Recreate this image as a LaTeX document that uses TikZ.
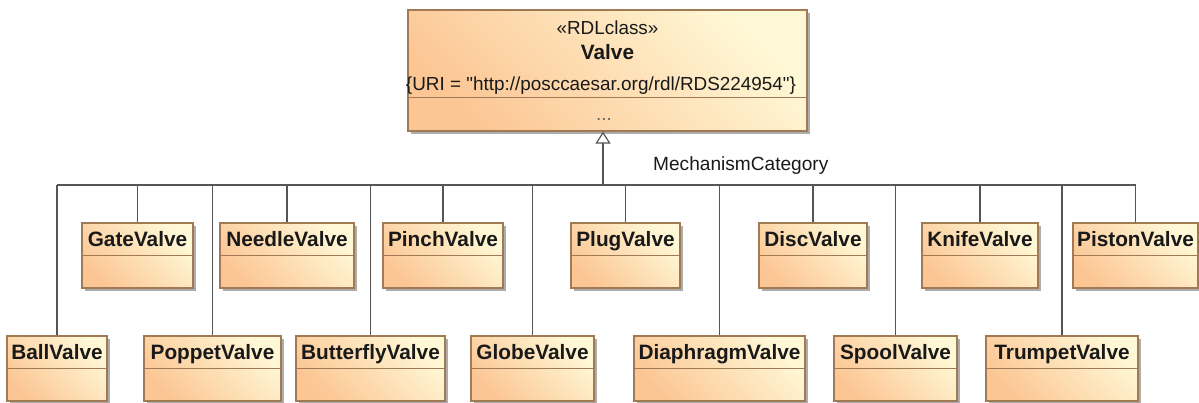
\documentclass[tikz,border=0pt]{standalone}
\usepackage{fontspec}
\setmainfont{Liberation Sans}
\newfontfamily\urifont{Liberation Sans}[Ligatures=TeXOff]
\usetikzlibrary{arrows.meta,shadows}
\definecolor{cDark}{RGB}{252,198,148}
\definecolor{cLight}{RGB}{255,248,214}
\definecolor{cBorder}{RGB}{160,122,84}
\definecolor{cLine}{RGB}{85,85,85}
\definecolor{cText}{RGB}{25,25,25}
\tikzset{
  cls/.style={draw=cBorder, line width=1.2pt, top color=cDark, bottom color=cLight,
    shading angle=135, minimum height=65pt, inner sep=0pt,
    general shadow={fill=black!32, shadow xshift=3pt, shadow yshift=-3pt}},
  ctitle/.style={font=\fontsize{20.8}{23}\selectfont\bfseries, text=cText, inner sep=0pt, anchor=base},
  plain/.style={font=\fontsize{18.9}{22}\selectfont, text=cText, inner sep=0pt, anchor=base},
  sep/.style={draw=cBorder, line width=1.2pt},
  conn/.style={draw=cLine, line width=1.2pt},
}
\newcommand\classbox[5]{%
  \node[cls, minimum width=#4pt] (#1) at (#2,#3) {};
  \node[ctitle] (#1t) at ([yshift=-24pt]#1.north) {#5};
  \draw[sep] ([yshift=-33pt]#1.north west) -- ([yshift=-33pt]#1.north east);
}
\begin{document}
\begin{tikzpicture}[x=1pt,y=-1pt]
\useasboundingbox (0,0) rectangle (1199,402);
% superclass
\node[cls, minimum width=399pt, minimum height=121pt] (valve) at (607.5,70.5) {};
\node[plain] (vst) at (607.5,34) {«RDLclass»};
\node[ctitle] (vname) at (607.5,59.5) {Valve};
\node[plain, font=\fontsize{18.9}{22}\selectfont\urifont] (vuri) at (601,90) {\{URI = "http://posccaesar.org/rdl/RDS224954"\}};
\draw[sep] ([yshift=-88pt]valve.north west) -- ([yshift=-88pt]valve.north east);
\node[plain, text=black!60] (vdots) at (604,120) {...};
% top row
\classbox{gate}{137.5}{255.5}{111}{GateValve}
\classbox{needle}{287}{255.5}{134}{NeedleValve}
\classbox{pinch}{443}{255.5}{120}{PinchValve}
\classbox{plug}{625.5}{255.5}{109}{PlugValve}
\classbox{disc}{813}{255.5}{108}{DiscValve}
\classbox{knife}{980}{255.5}{116}{KnifeValve}
\classbox{piston}{1135.5}{255.5}{125}{PistonValve}
% bottom row
\classbox{ball}{57}{368.5}{100}{BallValve}
\classbox{poppet}{212.5}{368.5}{137}{PoppetValve}
\classbox{butterfly}{370.5}{368.5}{149}{ButterflyValve}
\classbox{globe}{532.5}{368.5}{123}{GlobeValve}
\classbox{diaphragm}{719.5}{368.5}{171}{DiaphragmValve}
\classbox{spool}{895.5}{368.5}{123}{SpoolValve}
\classbox{trumpet}{1062}{368.5}{152}{TrumpetValve}
% generalization tree
\coordinate (hub) at (603,185);
\draw[conn] (ball.north |- hub) -- (piston.north |- hub);
\foreach \n in {gate,needle,pinch,plug,disc,knife,piston,ball,poppet,butterfly,globe,diaphragm,spool,trumpet}
  \draw[conn] (\n.north) -- (\n.north |- hub);
\draw[conn, -{Triangle[open, width=15pt, length=12pt]}] (hub) -- (hub |- valve.south);
\node[plain, font=\fontsize{19.1}{22}\selectfont, anchor=base west] (mc) at (653,170) {MechanismCategory};
\end{tikzpicture}
\end{document}
